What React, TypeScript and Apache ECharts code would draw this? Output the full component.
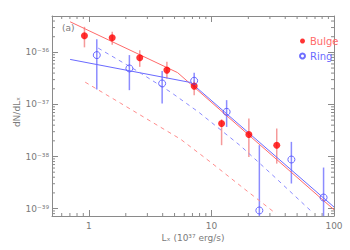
import React, { useEffect, useRef } from 'react';
import * as echarts from 'echarts';

// ---- data (luminosity in 1e37 erg/s, dN/dL) ----
const bulgeL = [0.92, 1.55, 2.6, 4.33, 7.23, 12.1, 20.2, 34.1];
const bulgeN = [2.08e-36, 1.91e-36, 7.87e-37, 4.57e-37, 2.25e-37, 4.31e-38, 2.65e-38, 1.65e-38];
const bulgeHi = [3.1e-36, 2.49e-36, 1.1e-36, 6.6e-37, 2.93e-37, 5.2e-38, 5.38e-38, 3.45e-38];
const bulgeLo = [1.25e-36, 1.4e-36, 5.28e-37, 3.16e-37, 1.51e-37, 1.65e-38, 9.8e-39, 7.3e-39];

const ringL = [1.16, 2.14, 3.96, 7.23, 13.3, 24.6, 44.9, 82.2];
const ringN = [8.87e-37, 4.92e-37, 2.53e-37, 2.85e-37, 7.21e-38, 9.2e-40, 8.75e-39, 1.63e-39];
const ringHi = [1.78e-36, 8.87e-37, 4.37e-37, 4.06e-37, 1.21e-37, 1.65e-38, 1.91e-38, 6.14e-39];
const ringLo = [1.94e-37, 1.88e-37, 1.04e-37, 2.1e-37, 3.7e-38, 7.2e-40, 3.03e-39, 7.2e-40];

const redSolidL = [0.703, 5.29, 100];
const redSolidN = [3.87e-36, 4.09e-37, 9.5e-40];
const blueSolidL = [0.703, 6.77, 100];
const blueSolidN = [7.33e-37, 2.64e-37, 1.07e-39];
const redDashL = [0.933, 1.81, 3.18, 5.6, 9.86, 17.4, 33.6];
const redDashN = [2.68e-37, 1.06e-37, 4.78e-38, 2.15e-38, 7.76e-39, 2.69e-39, 8.0e-40];
const blueDashL = [1.19, 2.49, 4.64, 7.87, 17.4, 33.6, 65.2];
const blueDashN = [1.21e-36, 4.37e-37, 1.73e-37, 7.11e-38, 1.58e-38, 3.83e-39, 8.9e-40];

const X_MIN = 0.5;
const X_MAX = 100;
const Y_MIN = 7.2e-40;
const Y_MAX = 5.0e-36;

// plotting scale (avoids float rounding of tiny values in the log scale)
const S = 1e40;
const S_EXP = 40;

const AXIS = '#8a8a8a';
const TXT = '#7a7a7a';
const FONT = 'DejaVu Sans';

const SUP: Record<string, string> = {
  '-': '\u207B', '0': '\u2070', '1': '\u00B9', '2': '\u00B2', '3': '\u00B3',
  '4': '\u2074', '5': '\u2075', '6': '\u2076', '7': '\u2077', '8': '\u2078', '9': '\u2079',
};
const sup = (s: string) => s.split('').map((c) => SUP[c] || c).join('');

function isDecade(v: number) {
  const l = Math.log10(v);
  return Math.abs(l - Math.round(l)) < 1e-6;
}

function minorTicks(lo: number, hi: number) {
  const out: number[] = [];
  for (let e = Math.floor(Math.log10(lo)) - 1; e <= Math.ceil(Math.log10(hi)); e++) {
    for (let k = 2; k <= 9; k++) {
      const v = k * Math.pow(10, e);
      if (v > lo * 1.0001 && v < hi * 0.9999) out.push(v);
    }
  }
  return out;
}

export default function App() {
  const ref = useRef<HTMLDivElement>(null);
  useEffect(() => {
    if (!ref.current) return;
    const chart = echarts.init(ref.current, undefined, { renderer: 'svg' });
    const yMinS = Y_MIN * S;
    const yMaxS = Y_MAX * S;
    const xMinor = minorTicks(X_MIN, X_MAX);
    const yMinor = minorTicks(yMinS, yMaxS);

    const errSeries = (L: number[], lo: number[], hi: number[], color: string) => ({
      type: 'custom',
      silent: true,
      clip: true,
      z: 1,
      data: L.map((x, i) => [x, lo[i] * S, hi[i] * S]),
      encode: { x: 0, y: [1, 2] },
      renderItem: (params: any, api: any) => {
        const x = api.value(0);
        const a = api.coord([x, api.value(1)]);
        const b = api.coord([x, api.value(2)]);
        return {
          type: 'line',
          shape: { x1: a[0], y1: a[1], x2: b[0], y2: b[1] },
          style: { stroke: color, lineWidth: 1.5 },
        };
      },
    });

    const lineSeries = (L: number[], N: number[], color: string, dashed: boolean) => ({
      type: 'line',
      silent: true,
      showSymbol: false,
      symbol: 'none',
      z: 2,
      data: L.map((x, i) => [x, N[i] * S]),
      lineStyle: { color, width: 1, type: dashed ? [4, 4] : 'solid' },
    });

    chart.setOption({
      animation: false,
      grid: { left: 52, right: 16, top: 16, bottom: 34 },
      legend: {
        orient: 'vertical',
        left: 294,
        top: 31,
        itemWidth: 5,
        itemHeight: 5,
        itemGap: 5,
        selectedMode: false,
        textStyle: { fontFamily: FONT, fontSize: 10 },
        data: [
          { name: 'Bulge', icon: 'circle', textStyle: { color: '#ff6a6a' } },
          { name: 'Ring', icon: 'circle', textStyle: { color: '#6a6aff' } },
        ],
      },
      xAxis: [
        {
          type: 'log', min: X_MIN, max: X_MAX, position: 'bottom',
          axisLine: { lineStyle: { color: AXIS, width: 1 } },
          axisTick: { inside: true, length: 6, lineStyle: { color: AXIS } },
          splitLine: { show: false },
          axisLabel: {
            color: TXT, fontFamily: FONT, fontSize: 9, margin: 5,
            showMinLabel: false,
            formatter: (v: number) => (isDecade(v) ? String(Math.round(v)) : ''),
          },
        },
        {
          type: 'log', min: X_MIN, max: X_MAX, position: 'top',
          axisLine: { lineStyle: { color: AXIS, width: 1 } },
          axisTick: { inside: true, length: 6, lineStyle: { color: AXIS } },
          splitLine: { show: false },
          axisLabel: { show: false },
        },
      ],
      yAxis: [
        {
          type: 'log', min: yMinS, max: yMaxS, position: 'left',
          axisLine: { lineStyle: { color: AXIS, width: 1 } },
          axisTick: { inside: true, length: 6, lineStyle: { color: AXIS } },
          splitLine: { show: false },
          axisLabel: {
            color: TXT, fontFamily: FONT, fontSize: 9, margin: 3,
            showMinLabel: false, showMaxLabel: false,
            formatter: (v: number) =>
              isDecade(v) ? '10' + sup(String(Math.round(Math.log10(v)) - S_EXP)) : '',
          },
        },
        {
          type: 'log', min: yMinS, max: yMaxS, position: 'right',
          axisLine: { lineStyle: { color: AXIS, width: 1 } },
          axisTick: { inside: true, length: 6, lineStyle: { color: AXIS } },
          splitLine: { show: false },
          axisLabel: { show: false },
        },
      ],
      graphic: [
        {
          type: 'text', x: 62, y: 28,
          style: { text: '(a)', fill: TXT, font: `9px "${FONT}"`, textVerticalAlign: 'middle', verticalAlign: 'middle' },
        },
        {
          type: 'text', x: 193, y: 238,
          style: {
            text: 'L\u2093 (10' + sup('37') + ' erg/s)', fill: TXT, font: `9px "${FONT}"`,
            textAlign: 'center', align: 'center', textVerticalAlign: 'middle', verticalAlign: 'middle',
          },
        },
        {
          type: 'text', x: 17, y: 112, rotation: Math.PI / 2,
          style: {
            text: 'dN/dL\u2093', fill: TXT, font: `9px "${FONT}"`,
            textAlign: 'center', align: 'center', textVerticalAlign: 'middle', verticalAlign: 'middle',
          },
        },
      ],
      series: [
        // minor ticks, bottom/top
        {
          type: 'custom', silent: true, z: 0,
          data: xMinor.map((v) => [v, 10]),
          encode: { x: 0, y: 1 },
          renderItem: (params: any, api: any) => {
            const cs = params.coordSys;
            const p = api.coord([api.value(0), 10]);
            const yb = cs.y + cs.height;
            return {
              type: 'group',
              children: [
                { type: 'line', shape: { x1: p[0], y1: yb, x2: p[0], y2: yb - 3 }, style: { stroke: AXIS, lineWidth: 1 } },
                { type: 'line', shape: { x1: p[0], y1: cs.y, x2: p[0], y2: cs.y + 3 }, style: { stroke: AXIS, lineWidth: 1 } },
              ],
            };
          },
        },
        // minor ticks, left/right
        {
          type: 'custom', silent: true, z: 0,
          data: yMinor.map((v) => [1, v]),
          encode: { x: 0, y: 1 },
          renderItem: (params: any, api: any) => {
            const cs = params.coordSys;
            const p = api.coord([1, api.value(1)]);
            const xr = cs.x + cs.width;
            return {
              type: 'group',
              children: [
                { type: 'line', shape: { x1: cs.x, y1: p[1], x2: cs.x + 3, y2: p[1] }, style: { stroke: AXIS, lineWidth: 1 } },
                { type: 'line', shape: { x1: xr, y1: p[1], x2: xr - 3, y2: p[1] }, style: { stroke: AXIS, lineWidth: 1 } },
              ],
            };
          },
        },
        lineSeries(redSolidL, redSolidN, '#ff6a6a', false),
        lineSeries(blueSolidL, blueSolidN, '#6a6aff', false),
        lineSeries(redDashL, redDashN, '#ff8c8c', true),
        lineSeries(blueDashL, blueDashN, '#8c8cff', true),
        errSeries(bulgeL, bulgeLo, bulgeHi, '#f59a9a'),
        errSeries(ringL, ringLo, ringHi, '#8c8cff'),
        {
          name: 'Bulge', type: 'scatter', z: 5, symbol: 'circle', symbolSize: 7,
          itemStyle: { color: '#ff0000' },
          data: bulgeL.map((x, i) => [x, bulgeN[i] * S]),
        },
        {
          name: 'Ring', type: 'scatter', z: 5, symbol: 'circle', symbolSize: 7,
          itemStyle: { color: 'rgba(255,255,255,0)', borderColor: '#4a4aff', borderWidth: 1 },
          data: ringL.map((x, i) => [x, ringN[i] * S]),
        },
      ],
    });
    return () => chart.dispose();
  }, []);
  return <div ref={ref} style={{ position: 'absolute', left: 0, top: 0, width: 350, height: 250 }} />;
}
